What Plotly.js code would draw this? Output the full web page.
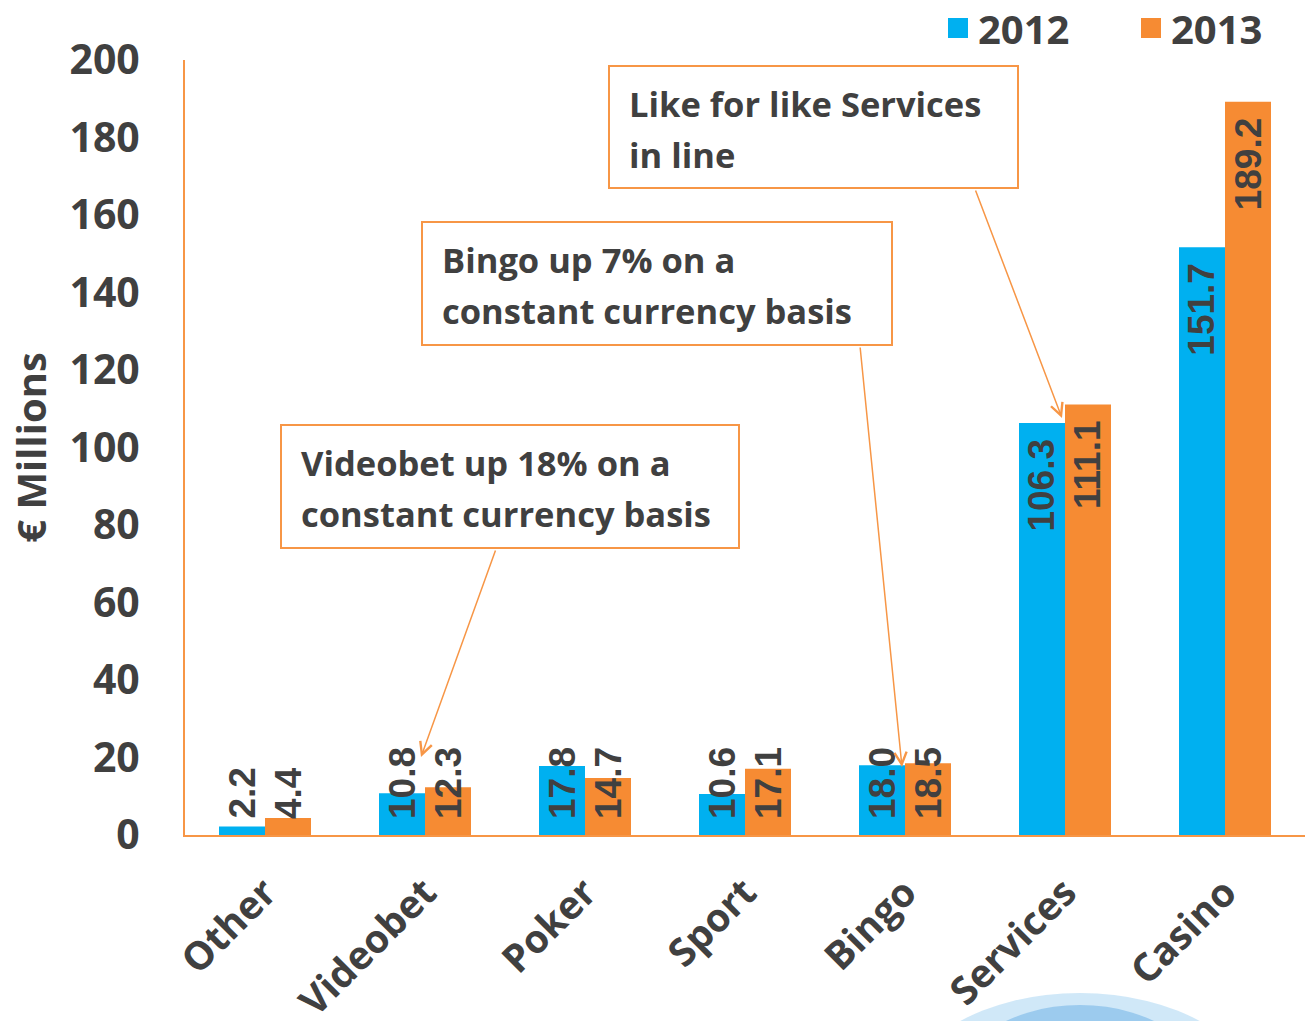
<!DOCTYPE html>
<html>
<head>
<meta charset="utf-8">
<script src="https://cdn.plot.ly/plotly-3.0.1.min.js"></script>
<style>html,body{margin:0;padding:0;background:#fff;}#chart{width:1305px;height:1021px;}</style>
</head>
<body>
<div id="chart"></div>
<script>
// ---- data ----
var categories = ['Other', 'Videobet', 'Poker', 'Sport', 'Bingo', 'Services', 'Casino'];
var values2012 = [2.2, 10.8, 17.8, 10.6, 18.0, 106.3, 151.7];
var values2013 = [4.4, 12.3, 14.7, 17.1, 18.5, 111.1, 189.2];
var seriesNames = ['2012', '2013'];
var yTicks = [0, 20, 40, 60, 80, 100, 120, 140, 160, 180, 200];
var calloutLines = [
  ['Like for like Services', 'in line'],
  ['Bingo up 7% on a', 'constant currency basis'],
  ['Videobet up 18% on a', 'constant currency basis']
];

var BLUE = '#00B0F0', ORANGE = '#F68B33', LINE = '#F79646', TXT = '#404040';
var FONT = '"Open Sans", "DejaVu Sans", sans-serif';
var LABELFONT = '"Liberation Sans", Arial, sans-serif';

var W = 1305, H = 1021, M = {l: 185, r: 0, t: 60, b: 186};
var PW = W - M.l - M.r, PH = H - M.t - M.b;
function px(x) { return (x - M.l) / PW; }
function py(y) { return (H - M.b - y) / PH; }

var traces = [
  {type: 'bar', name: seriesNames[0], x: categories, y: values2012,
   marker: {color: BLUE}, showlegend: false, hoverinfo: 'x+y'},
  {type: 'bar', name: seriesNames[1], x: categories, y: values2013,
   marker: {color: ORANGE}, showlegend: false, hoverinfo: 'x+y'},
  // legend entries
  {type: 'scatter', mode: 'markers', name: seriesNames[0], x: [null], y: [null],
   marker: {symbol: 'square', size: 16, color: BLUE, line: {color: BLUE, width: 4}}},
  {type: 'scatter', mode: 'markers', name: seriesNames[1], x: [null], y: [null],
   marker: {symbol: 'square', size: 16, color: ORANGE, line: {color: ORANGE, width: 4}}}
];

// value labels inside the bars
var annotations = [];
function addLabels(vals, shift) {
  vals.forEach(function (v, i) {
    var big = v > 50;
    annotations.push({
      x: categories[i], y: big ? v : 0, xref: 'x', yref: 'y',
      xshift: shift, yshift: big ? -14 : 14,
      yanchor: big ? 'top' : 'bottom', xanchor: 'center',
      text: v.toFixed(1), textangle: -90, showarrow: false,
      font: {family: LABELFONT, size: 37, color: TXT, weight: 'bold'}
    });
  });
}
addLabels(values2012, -23);
addLabels(values2013, 23);

// callout boxes (pixel geometry -> paper coords)
var boxGeom = [
  {x0: 609, x1: 1018, y0: 66, y1: 188},
  {x0: 422, x1: 892, y0: 222, y1: 345},
  {x0: 281, x1: 739, y0: 425, y1: 548}
];
var shapes = [];
boxGeom.forEach(function (g, k) {
  shapes.push({type: 'rect', xref: 'paper', yref: 'paper',
    x0: px(g.x0), x1: px(g.x1), y0: py(g.y1), y1: py(g.y0),
    fillcolor: '#ffffff', line: {color: LINE, width: 2}, layer: 'above'});
  calloutLines[k].forEach(function (t, j) {
    annotations.push({
      xref: 'paper', yref: 'paper', x: px(g.x0 + 18), y: py(g.y0 + 37 + j * 51),
      xanchor: 'left', yanchor: 'middle', text: t, showarrow: false,
      font: {family: FONT, size: 34.5, color: TXT, weight: 'bold'}
    });
  });
});

// arrows (tip in paper coords, tail as pixel offset)
var arrowGeom = [
  {tx: 1062, ty: 418, fx: 975, fy: 189},
  {tx: 902, ty: 767, fx: 860, fy: 346},
  {tx: 421, ty: 757, fx: 496, fy: 549}
];
arrowGeom.forEach(function (a) {
  annotations.push({
    xref: 'paper', yref: 'paper', x: px(a.tx), y: py(a.ty), ax: a.fx - a.tx, ay: a.fy - a.ty,
    axref: 'pixel', ayref: 'pixel', text: '', showarrow: true,
    arrowhead: 5, arrowsize: 1.6, arrowwidth: 1.5, arrowcolor: LINE, standoff: 0
  });
});

// decorative swoosh at the bottom right
shapes.push(
  {type: 'circle', xref: 'paper', yref: 'paper', x0: px(905), x1: px(1255), y0: py(1200), y1: py(993),
   fillcolor: 'rgba(120,190,235,0.35)', line: {width: 0}, layer: 'below'},
  {type: 'circle', xref: 'paper', yref: 'paper', x0: px(945), x1: px(1215), y0: py(1200), y1: py(1005),
   fillcolor: 'rgba(60,150,220,0.35)', line: {width: 0}, layer: 'below'}
);

var layout = {
  width: W, height: H,
  margin: {l: M.l, r: M.r, t: M.t, b: M.b, autoexpand: false},
  paper_bgcolor: '#ffffff', plot_bgcolor: '#ffffff',
  barmode: 'group', bargap: 0.425, bargroupgap: 0,
  font: {family: FONT, color: TXT},
  showlegend: true,
  legend: {orientation: 'h', x: px(938), xanchor: 'left', y: py(28), yanchor: 'middle',
           font: {family: FONT, size: 40, color: TXT, weight: 'bold'},
           bgcolor: 'rgba(0,0,0,0)', itemwidth: 30, traceorder: 'normal',
           entrywidth: 148, entrywidthmode: 'pixels'},
  xaxis: {type: 'category', showline: true, linecolor: LINE, linewidth: 2,
          ticks: '', showgrid: false, zeroline: false, tickangle: -45,
          tickfont: {family: FONT, size: 39, color: TXT, weight: 'bold'},
          ticklabelstandoff: 17, fixedrange: true},
  yaxis: {range: [0, 200], tickvals: yTicks, showline: true, linecolor: LINE, linewidth: 2,
          ticks: '', showgrid: false, zeroline: false,
          tickfont: {family: FONT, size: 41, color: TXT, weight: 'bold'},
          ticklabelstandoff: 35,
          title: {text: '€ Millions', standoff: 10,
                  font: {family: FONT, size: 40, color: TXT, weight: 'bold'}},
          fixedrange: true},
  annotations: annotations,
  shapes: shapes
};

Plotly.newPlot('chart', traces, layout, {displayModeBar: false, staticPlot: true});
</script>
</body>
</html>
